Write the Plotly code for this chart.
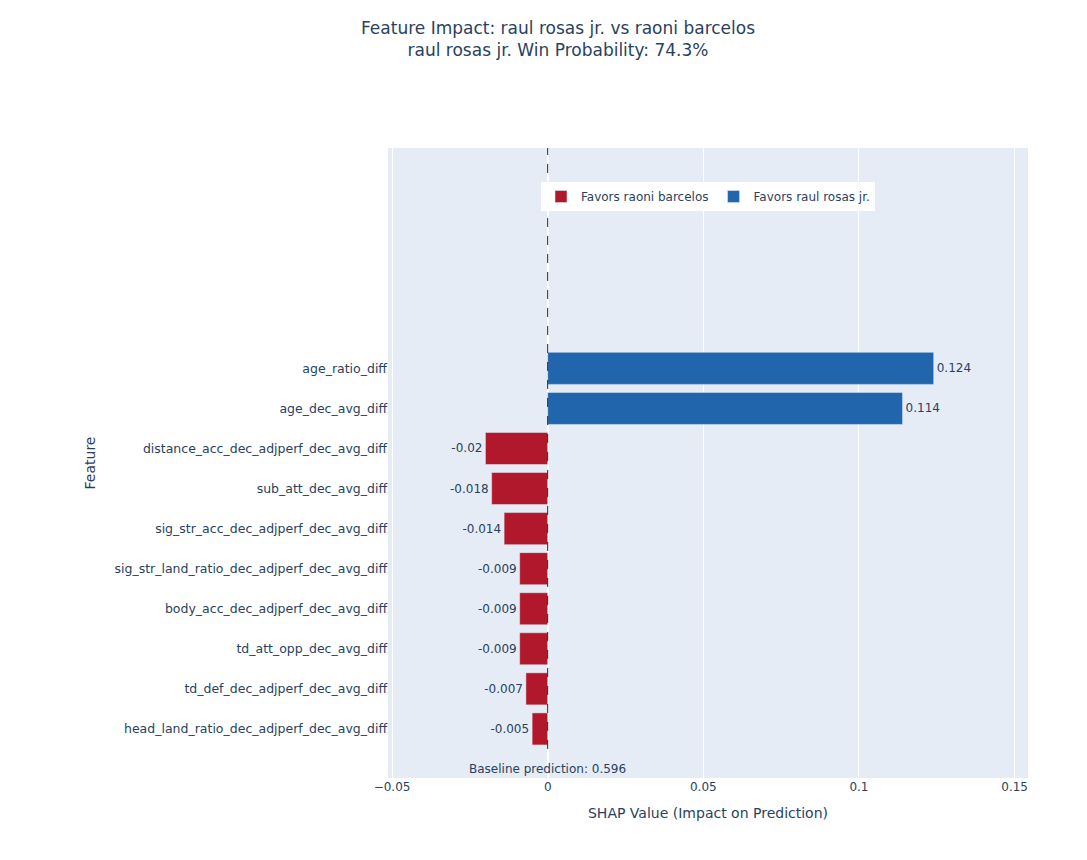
import plotly.graph_objects as go

# features listed bottom -> top as they appear on the y axis
features = ['head_land_ratio_dec_adjperf_dec_avg_diff',
            'td_def_dec_adjperf_dec_avg_diff',
            'td_att_opp_dec_avg_diff',
            'body_acc_dec_adjperf_dec_avg_diff',
            'sig_str_land_ratio_dec_adjperf_dec_avg_diff',
            'sig_str_acc_dec_adjperf_dec_avg_diff',
            'sub_att_dec_avg_diff',
            'distance_acc_dec_adjperf_dec_avg_diff',
            'age_dec_avg_diff',
            'age_ratio_diff']
shap_vals = [-0.005, -0.007, -0.009, -0.009, -0.009, -0.014, -0.018, -0.020, 0.114, 0.124]

fighter_a = 'raul rosas jr.'
fighter_b = 'raoni barcelos'
win_prob = 74.3
baseline = 0.596

neg_feat = [f for f, v in zip(features, shap_vals) if v < 0]
neg_vals = [v for v in shap_vals if v < 0]
pos_feat = [f for f, v in zip(features, shap_vals) if v >= 0]
pos_vals = [v for v in shap_vals if v >= 0]

fig = go.Figure()
fig.add_trace(go.Bar(y=neg_feat, x=neg_vals, orientation='h',
                     name='Favors ' + fighter_b,
                     marker_color='#b2182b',
                     text=[str(round(v, 3)) for v in neg_vals],
                     textposition='outside'))
fig.add_trace(go.Bar(y=pos_feat, x=pos_vals, orientation='h',
                     name='Favors ' + fighter_a,
                     marker_color='#2166ac',
                     text=[str(round(v, 3)) for v in pos_vals],
                     textposition='outside'))

# zero reference line
fig.add_shape(type='line', xref='x', yref='y', x0=0, x1=0, y0=-0.5, y1=14.5,
              line=dict(color='#222222', width=1, dash='dash'))

fig.add_annotation(x=0, y=-1, xref='x', yref='y', showarrow=False,
                   text='Baseline prediction: ' + str(baseline),
                   font=dict(size=12))

fig.update_layout(
    width=1087, height=860,
    template='plotly',
    font=dict(family='Verdana, DejaVu Sans, sans-serif', size=12, color='#2a3f5f'),
    title=dict(text='Feature Impact: ' + fighter_a + ' vs ' + fighter_b + '<br>'
                    + fighter_a + ' Win Probability: ' + str(win_prob) + '%',
               x=0.506, xanchor='center', y=0.970, yanchor='middle',
               font=dict(size=17)),
    barmode='relative',
    margin=dict(l=380, r=67, t=140, b=90),
    legend=dict(orientation='h', x=0.5, xanchor='center', y=0.946, yanchor='top',
                bgcolor='white', font=dict(size=12)),
    xaxis=dict(title=dict(text='SHAP Value (Impact on Prediction)', font=dict(size=14)),
               range=[-0.0513, 0.1543], dtick=0.05),
    yaxis=dict(title=dict(text='Feature', font=dict(size=14)),
               categoryorder='array', categoryarray=features,
               tickfont=dict(size=12.5),
               range=[-1.225, 14.5], automargin=False),
)

fig.write_html("out.html")
